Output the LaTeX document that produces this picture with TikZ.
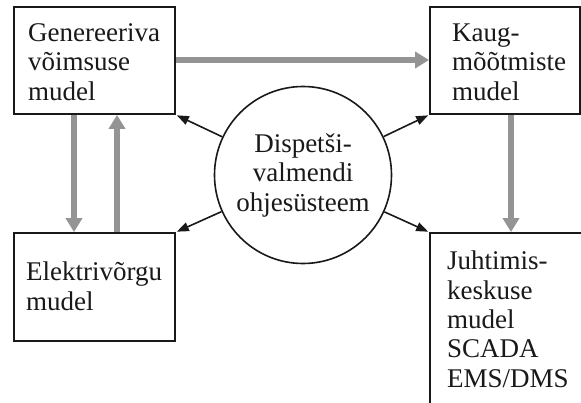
\documentclass[tikz,border=0pt]{standalone}
\usepackage{fontspec}
\setmainfont{Liberation Serif}
\usetikzlibrary{arrows.meta}
\begin{document}
\begin{tikzpicture}[x=1pt,y=-1pt,
  box/.style={draw=black!90,line width=1.8pt,rectangle,inner sep=0pt},
  lbl/.style={inner sep=0pt,font=\fontsize{27}{29.3}\selectfont,text=black!90},
  flow/.style={draw=black!42,line width=6pt,-{Triangle[width=16pt,length=14pt]}},
  ctl/.style={draw=black!90,line width=1.6pt,-{Triangle[width=9pt,length=12pt]},shorten >=1pt}]
\useasboundingbox (0,0) rectangle (581,402);
\clip (0,0) rectangle (581,402);
\fill[white] (0,0) rectangle (581,402);
% boxes
\node[box,minimum width=161pt,minimum height=107pt] (gen) at (94.5,60.5) {};
\node[box,minimum width=150pt,minimum height=107pt] (kaug) at (505,60.5) {};
\node[box,minimum width=161pt,minimum height=108pt] (elek) at (94.5,287) {};
\node[box,minimum width=170pt,minimum height=200pt] (juht) at (515,333) {};
\node[draw=black!90,line width=1.6pt,circle,minimum size=177pt,inner sep=0pt] (disp) at (303,175) {};
% texts (base anchor = baseline of last line)
\node[lbl,anchor=base west,align=left] (gent) at (28,100) {Genereeriva\\võimsuse\\mudel};
\node[lbl,anchor=base west,align=left] (kaugt) at (452,100) {Kaug-\\mõõtmiste\\mudel};
\node[lbl,anchor=base west,align=left] (elekt) at (26,310) {Elektrivõrgu\\mudel};
\node[lbl,anchor=base west,align=left] (juhtt) at (447,387) {Juhtimis-\\keskuse\\mudel\\SCADA\\EMS/DMS};
\node[lbl,anchor=base,align=center] (dispt) at (303,211) {Dispetši-\\valmendi\\ohjesüsteem};
% gray flows
\draw[flow] (gen.east |- 0,60) -- (kaug.west |- 0,60);
\draw[flow] (gen.south -| 74,0) -- (elek.north -| 74,0);
\draw[flow] (elek.north -| 117,0) -- (gen.south -| 117,0);
\draw[flow] (kaug.south -| 511,0) -- (juht.north -| 511,0);
% control arrows
\draw[ctl] (disp) -- (gen.south east);
\draw[ctl] (disp) -- (elek.north east);
\draw[ctl] (disp) -- (kaug.south west);
\draw[ctl] (disp) -- (juht.north west);
\end{tikzpicture}
\end{document}
